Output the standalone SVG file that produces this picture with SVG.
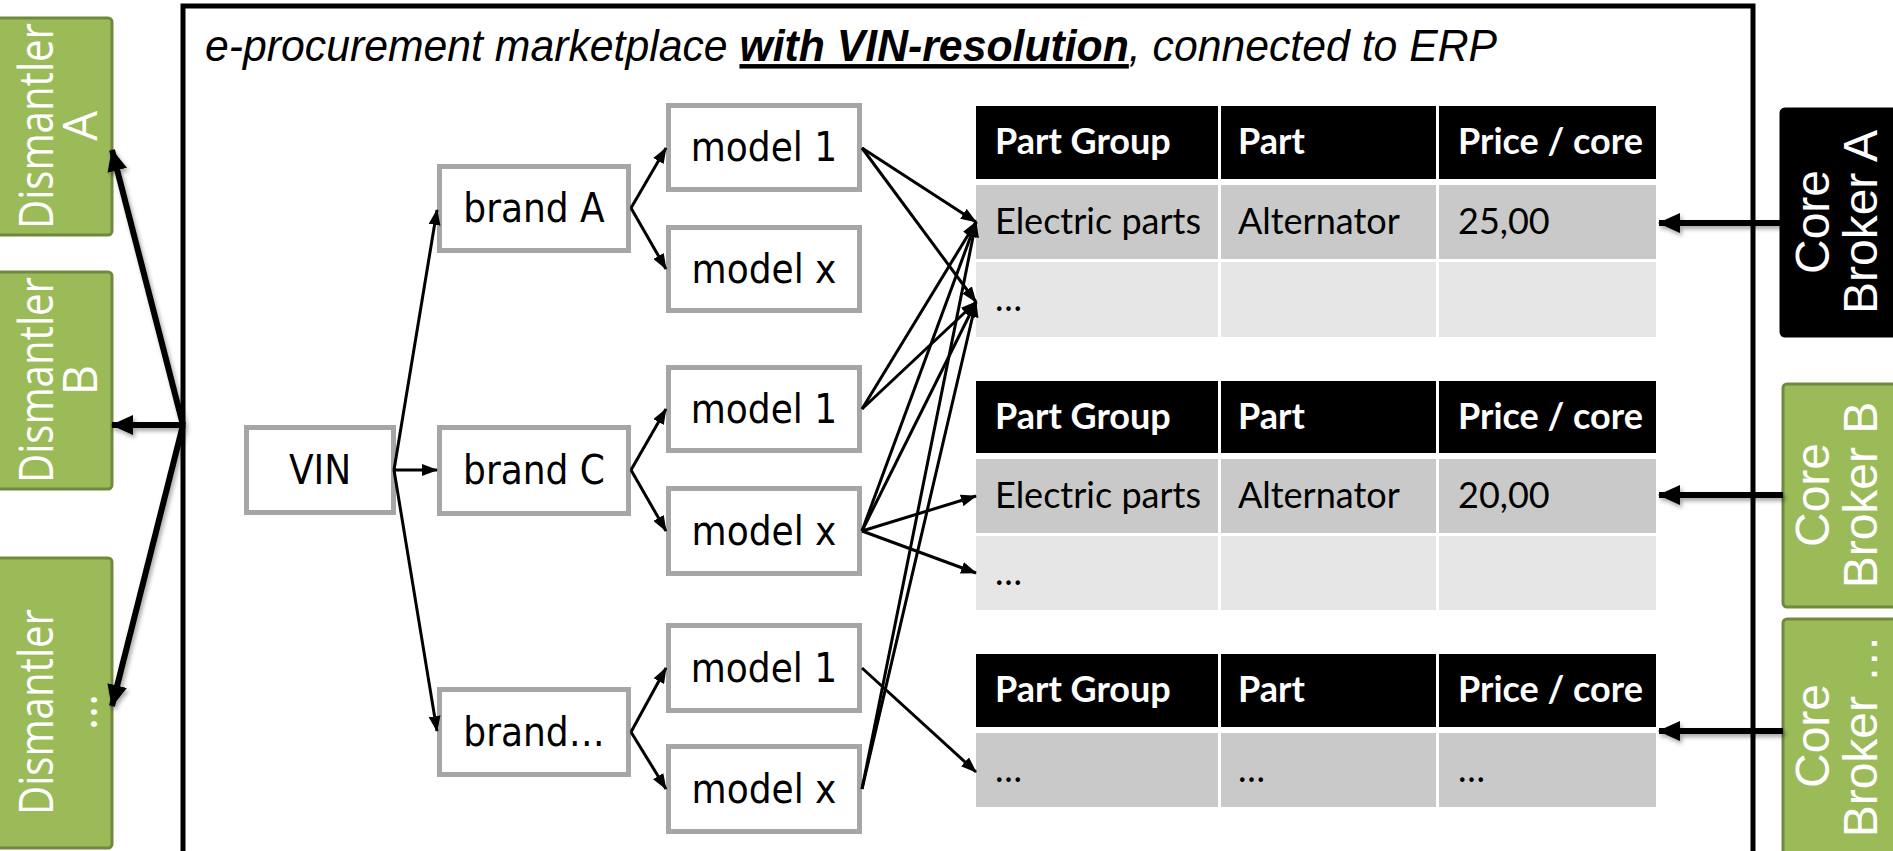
<svg xmlns="http://www.w3.org/2000/svg" width="1893" height="851" viewBox="0 0 1893 851">
<style>
.frame{fill:none;stroke:#000;stroke-width:5}
.green{fill:#9bbb59;stroke:#71893f;stroke-width:3}
.black{fill:#000;stroke:#000;stroke-width:3}
.dtxt{font-family:"Open Sans","Noto Sans",sans-serif;font-weight:400;font-size:47px;fill:#fff}
.ctxt{font-family:"Liberation Sans",Arial,sans-serif;font-size:48px;fill:#fff}
.tbox{fill:#fff;stroke:#a6a6a6;stroke-width:5}
.ttxt{font-family:"DejaVu Sans Condensed","DejaVu Sans",sans-serif;font-size:40px;fill:#000}
.hd{fill:#000}
.r1{fill:#c9c9c9}
.r2{fill:#e6e6e6}
.htxt{font-family:Lato,"Open Sans",sans-serif;font-weight:bold;font-size:36px;fill:#fff}
.ctx{font-family:Lato,"Open Sans",sans-serif;font-size:36px;fill:#000}
.thin{stroke:#000;stroke-width:3;fill:none;marker-end:url(#ah)}
.thick{stroke:#000;stroke-width:6;fill:none;marker-end:url(#ahb)}
</style>
<defs>
<marker id="ah" markerUnits="userSpaceOnUse" markerWidth="16" markerHeight="12" refX="15" refY="6" orient="auto">
<path d="M0,0 L16,6 L0,12 z" fill="#000"/>
</marker>
<marker id="ahb" markerUnits="userSpaceOnUse" markerWidth="22" markerHeight="20" refX="21" refY="10" orient="auto">
<path d="M0,0 L22,10 L0,20 z" fill="#000"/>
</marker>
<filter id="sh" filterUnits="userSpaceOnUse" x="0" y="0" width="1893" height="851">
<feDropShadow dx="2" dy="3" stdDeviation="2" flood-color="#000" flood-opacity="0.35"/>
</filter>
</defs>

<rect id="frame" class="frame" x="183" y="6" width="1570" height="870"/>
<text id="title" transform="translate(205,61) scale(0.95,1)" font-family="'Liberation Sans',Arial,sans-serif" font-style="italic" font-size="45">e-procurement marketplace <tspan font-weight="bold" text-decoration="underline">with VIN-resolution</tspan>, connected to ERP</text>

<g id="dismantler-a">
<rect class="green" x="-4" y="18" width="116" height="217" rx="4"/>
<text class="dtxt" transform="translate(35,126) rotate(-90)" text-anchor="middle" dominant-baseline="central" textLength="206" lengthAdjust="spacingAndGlyphs">Dismantler</text>
<text class="dtxt" transform="translate(79,126) rotate(-90)" text-anchor="middle" dominant-baseline="central">A</text>
</g>
<g id="dismantler-b">
<rect class="green" x="-4" y="272" width="116" height="217" rx="4"/>
<text class="dtxt" transform="translate(35,380) rotate(-90)" text-anchor="middle" dominant-baseline="central" textLength="206" lengthAdjust="spacingAndGlyphs">Dismantler</text>
<text class="dtxt" transform="translate(79,380) rotate(-90)" text-anchor="middle" dominant-baseline="central">B</text>
</g>
<g id="dismantler-n">
<rect class="green" x="-4" y="558" width="116" height="290" rx="4"/>
<text class="dtxt" transform="translate(35,712) rotate(-90)" text-anchor="middle" dominant-baseline="central" textLength="206" lengthAdjust="spacingAndGlyphs">Dismantler</text>
<text class="dtxt" transform="translate(79,712) rotate(-90)" text-anchor="middle" dominant-baseline="central">…</text>
</g>

<g id="broker-a">
<rect class="black" x="1781" y="109" width="120" height="227" rx="4"/>
<text class="ctxt" transform="translate(1812,222) rotate(-90)" text-anchor="middle" dominant-baseline="central">Core</text>
<text class="ctxt" transform="translate(1860,222) rotate(-90)" text-anchor="middle" dominant-baseline="central">Broker A</text>
</g>
<g id="broker-b">
<rect class="green" x="1783" y="384" width="120" height="223" rx="4"/>
<text class="ctxt" transform="translate(1812,495) rotate(-90)" text-anchor="middle" dominant-baseline="central">Core</text>
<text class="ctxt" transform="translate(1860,495) rotate(-90)" text-anchor="middle" dominant-baseline="central">Broker B</text>
</g>
<g id="broker-n">
<rect class="green" x="1783" y="619" width="120" height="240" rx="4"/>
<text class="ctxt" transform="translate(1812,736) rotate(-90)" text-anchor="middle" dominant-baseline="central">Core</text>
<text class="ctxt" transform="translate(1860,736) rotate(-90)" text-anchor="middle" dominant-baseline="central">Broker …</text>
</g>

<g id="vin"><rect class="tbox" x="246.5" y="427.5" width="147" height="85"/><text class="ttxt" x="320" y="484" text-anchor="middle">VIN</text></g>
<g id="brand-a"><rect class="tbox" x="439.5" y="166.5" width="189" height="84"/><text class="ttxt" x="534" y="222" text-anchor="middle">brand A</text></g>
<g id="brand-c"><rect class="tbox" x="439.5" y="427.5" width="189" height="86"/><text class="ttxt" x="534" y="484" text-anchor="middle">brand C</text></g>
<g id="brand-n"><rect class="tbox" x="439.5" y="689.5" width="189" height="85"/><text class="ttxt" x="534" y="746" text-anchor="middle">brand…</text></g>
<g id="model-a1"><rect class="tbox" x="668.5" y="105.5" width="191" height="84"/><text class="ttxt" x="764" y="161" text-anchor="middle">model 1</text></g>
<g id="model-ax"><rect class="tbox" x="668.5" y="227.5" width="191" height="83"/><text class="ttxt" x="764" y="283" text-anchor="middle">model x</text></g>
<g id="model-c1"><rect class="tbox" x="668.5" y="367.5" width="191" height="83"/><text class="ttxt" x="764" y="423" text-anchor="middle">model 1</text></g>
<g id="model-cx"><rect class="tbox" x="668.5" y="488.5" width="191" height="85"/><text class="ttxt" x="764" y="545" text-anchor="middle">model x</text></g>
<g id="model-n1"><rect class="tbox" x="668.5" y="625.5" width="191" height="85"/><text class="ttxt" x="764" y="682" text-anchor="middle">model 1</text></g>
<g id="model-nx"><rect class="tbox" x="668.5" y="746.5" width="191" height="85"/><text class="ttxt" x="764" y="803" text-anchor="middle">model x</text></g>

<g id="table-1">
<rect class="hd" x="976" y="106" width="242" height="73"/><rect class="hd" x="1221" y="106" width="215" height="73"/><rect class="hd" x="1439" y="106" width="217" height="73"/>
<rect class="r1" x="976" y="185" width="242" height="74"/><rect class="r1" x="1221" y="185" width="215" height="74"/><rect class="r1" x="1439" y="185" width="217" height="74"/>
<rect class="r2" x="976" y="262" width="242" height="75"/><rect class="r2" x="1221" y="262" width="215" height="75"/><rect class="r2" x="1439" y="262" width="217" height="75"/>
<text class="htxt" x="995" y="154">Part Group</text><text class="htxt" x="1238" y="154">Part</text><text class="htxt" x="1458" y="154">Price / core</text>
<text class="ctx" x="995" y="234">Electric parts</text><text class="ctx" x="1238" y="234">Alternator</text><text class="ctx" x="1458" y="234">25,00</text>
<text class="ctx" x="995" y="311">…</text>
</g>
<g id="table-2">
<rect class="hd" x="976" y="381" width="242" height="72"/><rect class="hd" x="1221" y="381" width="215" height="72"/><rect class="hd" x="1439" y="381" width="217" height="72"/>
<rect class="r1" x="976" y="459" width="242" height="74"/><rect class="r1" x="1221" y="459" width="215" height="74"/><rect class="r1" x="1439" y="459" width="217" height="74"/>
<rect class="r2" x="976" y="536" width="242" height="74"/><rect class="r2" x="1221" y="536" width="215" height="74"/><rect class="r2" x="1439" y="536" width="217" height="74"/>
<text class="htxt" x="995" y="429">Part Group</text><text class="htxt" x="1238" y="429">Part</text><text class="htxt" x="1458" y="429">Price / core</text>
<text class="ctx" x="995" y="508">Electric parts</text><text class="ctx" x="1238" y="508">Alternator</text><text class="ctx" x="1458" y="508">20,00</text>
<text class="ctx" x="995" y="585">…</text>
</g>
<g id="table-3">
<rect class="hd" x="976" y="654" width="242" height="73"/><rect class="hd" x="1221" y="654" width="215" height="73"/><rect class="hd" x="1439" y="654" width="217" height="73"/>
<rect class="r1" x="976" y="733" width="242" height="74"/><rect class="r1" x="1221" y="733" width="215" height="74"/><rect class="r1" x="1439" y="733" width="217" height="74"/>
<text class="htxt" x="995" y="702">Part Group</text><text class="htxt" x="1238" y="702">Part</text><text class="htxt" x="1458" y="702">Price / core</text>
<text class="ctx" x="995" y="782">…</text><text class="ctx" x="1238" y="782">…</text><text class="ctx" x="1458" y="782">…</text>
</g>

<g id="connectors">
<line class="thin" x1="394" y1="470" x2="437" y2="210"/>
<line class="thin" x1="394" y1="470" x2="437" y2="470"/>
<line class="thin" x1="394" y1="470" x2="437" y2="731"/>
<line class="thin" x1="631" y1="208" x2="666" y2="148"/>
<line class="thin" x1="631" y1="208" x2="666" y2="269"/>
<line class="thin" x1="631" y1="470" x2="666" y2="409"/>
<line class="thin" x1="631" y1="470" x2="666" y2="531"/>
<line class="thin" x1="631" y1="732" x2="666" y2="668"/>
<line class="thin" x1="631" y1="732" x2="666" y2="789"/>
<line class="thin" x1="862" y1="148" x2="976" y2="222"/>
<line class="thin" x1="862" y1="148" x2="976" y2="302"/>
<line class="thin" x1="862" y1="409" x2="976" y2="222"/>
<line class="thin" x1="862" y1="409" x2="976" y2="302"/>
<line class="thin" x1="862" y1="531" x2="976" y2="222"/>
<line class="thin" x1="862" y1="531" x2="976" y2="302"/>
<line class="thin" x1="862" y1="531" x2="976" y2="496"/>
<line class="thin" x1="862" y1="531" x2="976" y2="573"/>
<line class="thin" x1="862" y1="789" x2="976" y2="222"/>
<line class="thin" x1="862" y1="789" x2="976" y2="302"/>
<line class="thin" x1="862" y1="668" x2="976" y2="772"/>
<g filter="url(#sh)">
<line class="thick" x1="183" y1="425" x2="112" y2="150"/>
<line class="thick" x1="183" y1="425" x2="112" y2="425"/>
<line class="thick" x1="183" y1="425" x2="112" y2="706"/>
<line class="thick" x1="1781" y1="223" x2="1659" y2="223"/>
<line class="thick" x1="1783" y1="495" x2="1659" y2="495"/>
<line class="thick" x1="1783" y1="731" x2="1659" y2="731"/>
</g>
</g>
</svg>
